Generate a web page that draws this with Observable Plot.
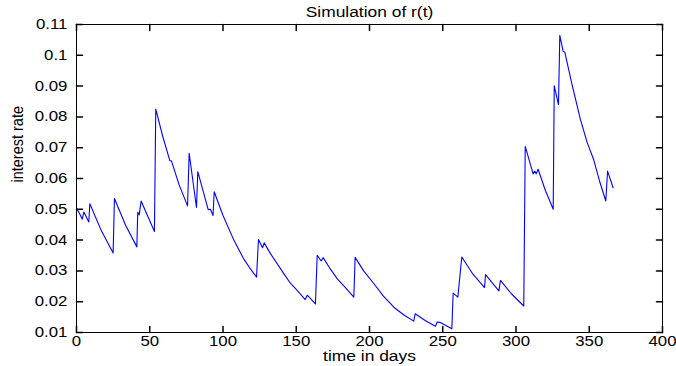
<!DOCTYPE html>
<html>
<head>
<meta charset="utf-8">
<script src="https://cdn.jsdelivr.net/npm/d3@7"></script>
<script src="https://cdn.jsdelivr.net/npm/@observablehq/plot@0.6"></script>
<style>
  html, body { margin: 0; padding: 0; background: #fff; }
  svg text { font-family: "Liberation Sans", Arial, Helvetica, sans-serif; }
</style>
</head>
<body>
<div id="chart"></div>
<script>
const days = [0, 2.0, 3.9, 5.0, 8.4, 9.1, 17.0, 25.0, 25.9, 33.5, 41.2, 41.8, 42.8, 44.1, 53.2, 54.1, 58.8, 63.7, 64.8, 70.0, 75.8, 76.9, 81.9, 82.8,
  89.9, 91.4, 93.2, 94.0, 100.0, 107.4, 114.0, 118.5, 122.9, 124.2, 127.0, 128.1, 132.4, 141.5, 146.0, 150.6, 156.1, 157.5, 163.1, 164.3, 167.0, 168.4,
  173.0, 177.9, 184.0, 189.3, 190.2, 196.0, 202.9, 209.5, 216.6, 223.5, 230.2, 231.2, 238.0, 245.0, 246.2, 248.0, 256.2, 257.1, 260.3, 263.0, 270.5, 278.5, 279.2, 288.3, 289.4,
  297.0, 305.3, 306.3, 311.7, 312.8, 313.8, 315.1, 320.0, 325.4, 326.1, 329.0, 329.9, 332.2, 333.3, 338.5, 344.0, 348.5, 353.1, 357.0, 361.3, 362.5, 366.3];
const rates = [0.0503, 0.0487, 0.0468, 0.0491, 0.0459, 0.0518, 0.0430, 0.0358, 0.0535, 0.0448, 0.0378, 0.0490, 0.0482, 0.0527, 0.0428, 0.0825, 0.0738, 0.0658, 0.0657, 0.0580, 0.0511, 0.0682, 0.0506, 0.0622,
  0.0499, 0.0500, 0.0480, 0.0557, 0.0480, 0.0400, 0.0340, 0.0308, 0.0280, 0.0402, 0.0375, 0.0391, 0.0356, 0.0291, 0.0260, 0.0237, 0.0207, 0.0221, 0.0193, 0.0351, 0.0332, 0.0343,
  0.0308, 0.0275, 0.0243, 0.0215, 0.0344, 0.0300, 0.0259, 0.0218, 0.0182, 0.0157, 0.0137, 0.0161, 0.0139, 0.0120, 0.0134, 0.0133, 0.0112, 0.0228, 0.0215, 0.0345, 0.0290, 0.0246, 0.0288, 0.0235, 0.0269,
  0.0225, 0.0186, 0.0704, 0.0615, 0.0624, 0.0615, 0.0630, 0.0562, 0.0500, 0.0901, 0.0840, 0.1065, 0.1013, 0.1010, 0.0900, 0.0791, 0.0718, 0.0660, 0.0592, 0.0527, 0.0624, 0.0570];

const xTicks = [0, 50, 100, 150, 200, 250, 300, 350, 400];
const yTicks = [0.01, 0.02, 0.03, 0.04, 0.05, 0.06, 0.07, 0.08, 0.09, 0.1, 0.11];
const yTickLabels = ["0.01", "0.02", "0.03", "0.04", "0.05", "0.06", "0.07", "0.08", "0.09", "0.1", "0.11"];
const titleText = "Simulation of r(t)";
const xLabel = "time in days";
const yLabel = "interest rate";

const data = days.map((d, i) => ({day: d, rate: rates[i]}));
const tickShape = {draw(context, l) { context.moveTo(0, 0); context.lineTo(0, -l); }};
const FS = 14.5;
const TFS = 14;

const chart = Plot.plot({
  width: 676,
  height: 366,
  marginLeft: 76,
  marginRight: 14,
  marginTop: 24,
  marginBottom: 34,
  style: {fontFamily: "'Liberation Sans', Arial, sans-serif", fontSize: FS + "px", background: "#fff", overflow: "visible"},
  x: {domain: [0, 400]},
  y: {domain: [0.01, 0.11]},
  marks: [
    Plot.line(data, {x: "day", y: "rate", stroke: "#0000ff", strokeWidth: 1.1}),
    Plot.frame({stroke: "#000", strokeWidth: 1}),
    Plot.vector(xTicks, {x: d => d, y: yTicks[0], rotate: 0, length: 6, anchor: "start", shape: tickShape, stroke: "#000"}),
    Plot.vector(xTicks, {x: d => d, y: yTicks[yTicks.length - 1], rotate: 180, length: 6, anchor: "start", shape: tickShape, stroke: "#000"}),
    Plot.vector(yTicks, {x: xTicks[0], y: d => d, rotate: 90, length: 6, anchor: "start", shape: tickShape, stroke: "#000"}),
    Plot.vector(yTicks, {x: xTicks[xTicks.length - 1], y: d => d, rotate: -90, length: 6, anchor: "start", shape: tickShape, stroke: "#000"}),
    Plot.axisX(xTicks, {anchor: "bottom", tickSize: 0, tickPadding: 4, tickFormat: d => String(d), label: null, fontSize: TFS, fill: "#000"}),
    Plot.axisY(yTicks, {anchor: "left", tickSize: 0, tickPadding: 9, tickFormat: d => yTickLabels[yTicks.indexOf(d)], label: null, fontSize: TFS, fill: "#000"}),
    Plot.text([titleText], {text: d => d, frameAnchor: "top", dy: -8, lineAnchor: "bottom", fontSize: FS, fill: "#000"}),
    Plot.text([xLabel], {text: d => d, frameAnchor: "bottom", dy: 28, lineAnchor: "bottom", fontSize: FS, fill: "#000"}),
    Plot.text([yLabel], {text: d => d, frameAnchor: "left", dx: -59, dy: 4, rotate: -90, lineAnchor: "middle", fontSize: FS, fill: "#000"})
  ]
});
document.getElementById("chart").appendChild(chart);

// The reference image is horizontally stretched (~1.2x); mimic that on text.
const SX = 1.2;
chart.querySelectorAll("text").forEach(t => {
  const bb = t.getBBox();
  const tr = t.getAttribute("transform") || "";
  const anchor = getComputedStyle(t).textAnchor;
  if (/rotate/.test(tr)) {
    const ay = bb.y + bb.height / 2;
    t.setAttribute("transform", `${tr} translate(0,${ay}) scale(1,${SX}) translate(0,${-ay})`);
  } else {
    const ax = anchor === "end" ? bb.x + bb.width : anchor === "middle" ? bb.x + bb.width / 2 : bb.x;
    t.setAttribute("transform", `${tr} translate(${ax},0) scale(${SX},1) translate(${-ax},0)`);
  }
});
</script>
</body>
</html>
